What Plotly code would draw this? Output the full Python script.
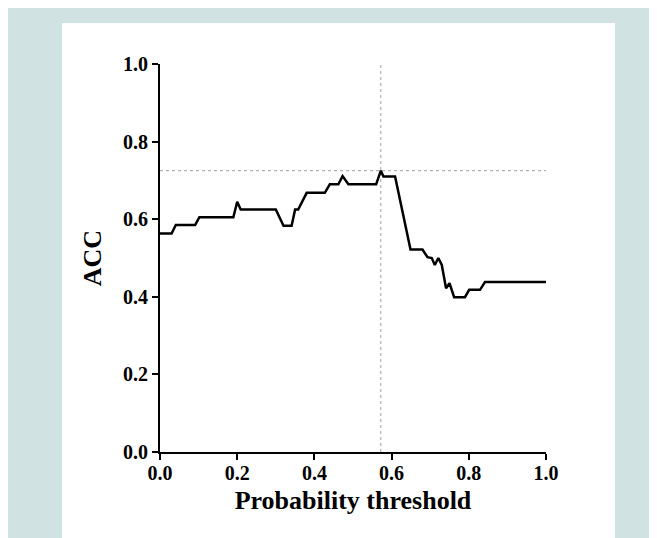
import plotly.graph_objects as go

# Data
threshold = [0, 0.030, 0.041, 0.091, 0.102, 0.190, 0.200, 0.209, 0.300, 0.320,
             0.341, 0.350, 0.358, 0.380, 0.427, 0.440, 0.462, 0.473, 0.488, 0.560,
             0.572, 0.579, 0.609, 0.622, 0.649, 0.680, 0.693, 0.704, 0.712, 0.721,
             0.730, 0.741, 0.750, 0.762, 0.790, 0.801, 0.829, 0.842, 1.0]
acc = [0.563, 0.563, 0.585, 0.585, 0.605, 0.605, 0.645, 0.625, 0.625, 0.583,
       0.583, 0.625, 0.625, 0.668, 0.668, 0.690, 0.690, 0.711, 0.690, 0.690,
       0.725, 0.710, 0.710, 0.649, 0.522, 0.522, 0.502, 0.500, 0.482, 0.500,
       0.482, 0.422, 0.435, 0.399, 0.399, 0.418, 0.418, 0.438, 0.438]

best_threshold = 0.572
best_acc = 0.725

tick_vals = [0.0, 0.2, 0.4, 0.6, 0.8, 1.0]
tick_text = ["0.0", "0.2", "0.4", "0.6", "0.8", "1.0"]

# figure sits at (8, 8) in the page because of the default body margin
W, H = 649, 530
L, R, T, B = 152, 111, 56, 86
pw, ph = W - L - R, H - T - B


def px_x(p):
    return (p - L) / pw


def px_y(p):
    return (H - B - p) / ph


fig = go.Figure()

# reference lines
fig.add_trace(go.Scatter(x=[best_threshold, best_threshold], y=[0, 1], mode="lines",
                         line=dict(color="#a0a0a0", width=1, dash="dot"),
                         hoverinfo="skip", showlegend=False))
fig.add_trace(go.Scatter(x=[0, 1], y=[best_acc, best_acc], mode="lines",
                         line=dict(color="#a0a0a0", width=1, dash="dot"),
                         hoverinfo="skip", showlegend=False))

fig.add_trace(go.Scatter(x=threshold, y=acc, mode="lines",
                         line=dict(color="black", width=2.5),
                         showlegend=False, cliponaxis=False))

tfont = dict(family="Liberation Serif", size=20, color="black", weight="bold")
titlefont = dict(family="Liberation Serif", size=26, color="black", weight="bold")

fig.update_layout(
    width=W, height=H,
    margin=dict(l=L, r=R, t=T, b=B),
    paper_bgcolor="#D1E2E2", plot_bgcolor="white",
    shapes=[
        dict(type="rect", xref="paper", yref="paper", layer="below",
             x0=px_x(54), x1=px_x(607), y0=px_y(H + 5), y1=px_y(15),
             fillcolor="white", line=dict(width=0)),
    ],
    xaxis=dict(range=[0, 1], tickvals=tick_vals, ticktext=tick_text,
               showline=True, linecolor="black", linewidth=2,
               ticks="outside", ticklen=6, tickwidth=2, tickcolor="black",
               ticklabelstandoff=-4,
               showgrid=False, zeroline=False, tickfont=tfont,
               title=dict(text="Probability threshold", font=titlefont, standoff=8)),
    yaxis=dict(range=[0, 1], tickvals=tick_vals, ticktext=tick_text,
               showline=True, linecolor="black", linewidth=2,
               ticks="outside", ticklen=6, tickwidth=2, tickcolor="black",
               showgrid=False, zeroline=False, tickfont=tfont,
               title=dict(text="ACC", font=titlefont, standoff=14)),
)

fig.write_html("out.html")
